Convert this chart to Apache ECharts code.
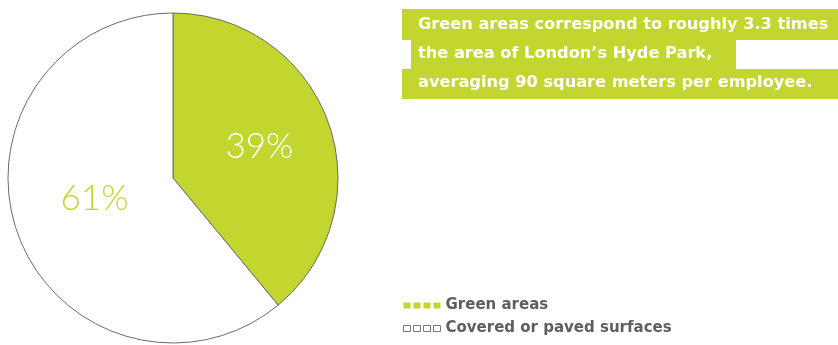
<!DOCTYPE html>
<html>
<head>
<meta charset="utf-8">
<script src="https://cdn.jsdelivr.net/npm/echarts@6/dist/echarts.min.js"></script>
<style>
  html, body { margin: 0; padding: 0; background: #ffffff; }
  #chart { width: 838px; height: 345px; }
</style>
</head>
<body>
<div id="chart"></div>
<script>
// Land use breakdown
const categories = ['Green areas', 'Covered or paved surfaces'];
const shares = [39, 61];
const noteLines = [
  'Green areas correspond to roughly 3.3 times',
  'the area of London\u2019s Hyde Park,',
  'averaging 90 square meters per employee.'
];

const GREEN = '#c3d62f';
const OUTLINE = '#6b6b6b';
const TEXT_GREY = '#5e5e5e';

const sliceStyles = [
  { fill: GREEN, labelColor: '#ffffff', offset: [6, -2] },
  { fill: '#ffffff', labelColor: GREEN, offset: [2, -8] }
];

// four small squares used as legend swatch
const swatch = 'path://M0,0h7v6h-7z M10,0h7v6h-7z M20,0h7v6h-7z M30,0h7v6h-7z';

const chart = echarts.init(document.getElementById('chart'), null, { renderer: 'canvas' });

const pieData = categories.map((name, i) => ({
  name,
  value: shares[i],
  itemStyle: { color: sliceStyles[i].fill },
  label: { color: sliceStyles[i].labelColor, offset: sliceStyles[i].offset }
}));

// highlighted note block: one band per line
const bands = [
  { x: 402, y: 9, w: 436, h: 31 },
  { x: 411, y: 40, w: 325, h: 29 },
  { x: 402, y: 69, w: 436, h: 30 }
];
const graphics = [];
bands.forEach((b, i) => {
  graphics.push({
    type: 'rect', left: b.x, top: b.y, z: 1,
    shape: { width: b.w, height: b.h },
    style: { fill: GREEN }
  });
  graphics.push({
    type: 'text', left: 418, top: b.y + 6 + (i === 0 ? 2 : 0), z: 2,
    style: {
      text: noteLines[i], fill: '#ffffff',
      font: 'bold 16.2px "DejaVu Sans", sans-serif'
    }
  });
});

chart.setOption({
  animation: false,
  backgroundColor: '#ffffff',
  graphic: graphics,
  legend: {
    orient: 'vertical',
    left: 403, top: 298, padding: 0,
    itemWidth: 37, itemHeight: 6, itemGap: 8,
    icon: swatch,
    selectedMode: false,
    textStyle: { fontSize: 15, color: TEXT_GREY, fontFamily: '"DejaVu Sans", sans-serif', fontWeight: 'bold', padding: [0, 0, 0, 0] },
    data: [
      { name: categories[0], itemStyle: { color: GREEN, borderWidth: 0 } },
      { name: categories[1], itemStyle: { color: '#ffffff', borderColor: '#777777', borderWidth: 1 } }
    ]
  },
  series: [{
    type: 'pie',
    center: [173, 178],
    radius: 165,
    startAngle: 90,
    clockwise: true,
    silent: true,
    itemStyle: { borderColor: OUTLINE, borderWidth: 1 },
    label: {
      show: true,
      position: 'inside',
      formatter: '{c}%',
      fontSize: 35,
      fontWeight: 300,
      fontFamily: 'Lato, Roboto, sans-serif'
    },
    labelLine: { show: false },
    emphasis: { disabled: true },
    data: pieData
  }]
});
</script>
</body>
</html>
